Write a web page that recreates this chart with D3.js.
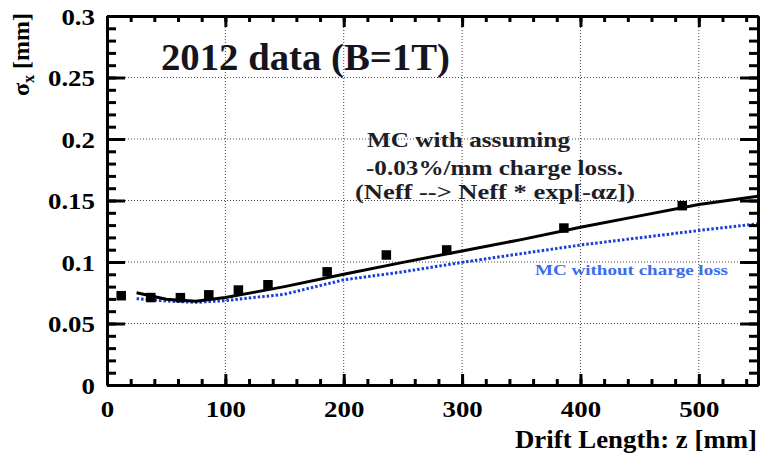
<!DOCTYPE html>
<html>
<head>
<meta charset="utf-8">
<script src="https://cdn.jsdelivr.net/npm/d3@7"></script>
<style>
  html, body { margin: 0; padding: 0; background: #fff; }
  svg { display: block; }
</style>
</head>
<body>
<svg id="chart" width="761" height="457"></svg>
<script>
// ---- data ----
const dataZ      = [12, 37, 62, 86, 111, 136, 186, 236, 287, 386, 486];
const dataSigma  = [0.0726, 0.0711, 0.0710, 0.0733, 0.0772, 0.0815, 0.0920, 0.1057, 0.1098, 0.1276, 0.1458];

const mcLossZ     = [25, 50, 75, 100, 125, 150, 200, 250, 300, 350, 400, 450, 500, 550];
const mcLossSigma = [0.0750, 0.0697, 0.0680, 0.0712, 0.0755, 0.0800, 0.0900, 0.0997, 0.1090, 0.1182, 0.1282, 0.1375, 0.1468, 0.1535];

const mcNoLossZ     = [25, 50, 75, 100, 150, 200, 250, 300, 350, 400, 450, 500, 550];
const mcNoLossSigma = [0.0702, 0.0683, 0.0672, 0.0686, 0.0738, 0.0855, 0.0920, 0.0997, 0.1068, 0.1138, 0.1197, 0.1256, 0.1310];

const xTicks = [0, 100, 200, 300, 400, 500];
const yTicks = [0, 0.05, 0.1, 0.15, 0.2, 0.25, 0.3];
const xDomain = [0, 550];
const yDomain = [0, 0.3];

const titleText = "2012 data (B=1T)";
const noteLines = ["MC with assuming", "-0.03%/mm charge loss.", "(Neff --> Neff * exp[-\u03B1z])"];
const blueLabel = "MC without charge loss";
const xTitle = "Drift Length: z [mm]";

// ---- layout ----
const svg = d3.select("#chart");
const m = { left: 107, top: 16, right: 3, bottom: 72 };
const W = 761, H = 457;
const x = d3.scaleLinear().domain(xDomain).range([m.left, W - m.right]);
const y = d3.scaleLinear().domain(yDomain).range([H - m.bottom, m.top]);
const serif = "'Liberation Serif', 'Times New Roman', serif";

// grid
const grid = svg.append("g").attr("stroke", "#444").attr("stroke-width", 1).attr("stroke-dasharray", "1,2");
xTicks.filter(v => v > 0).forEach(v => {
  grid.append("line").attr("x1", x(v)).attr("x2", x(v)).attr("y1", y(yDomain[0])).attr("y2", y(yDomain[1]));
});
yTicks.filter(v => v > 0 && v < 0.3).forEach(v => {
  grid.append("line").attr("x1", x(xDomain[0])).attr("x2", x(xDomain[1])).attr("y1", y(v)).attr("y2", y(v));
});

// lines
const lineGen = d3.line().x(d => x(d[0])).y(d => y(d[1]));
svg.append("path")
  .datum(mcNoLossZ.map((z, i) => [z, mcNoLossSigma[i]]))
  .attr("d", lineGen).attr("fill", "none")
  .attr("stroke", "#1a3ed8").attr("stroke-width", 3).attr("stroke-dasharray", "2.5,2");
svg.append("path")
  .datum(mcLossZ.map((z, i) => [z, mcLossSigma[i]]))
  .attr("d", lineGen).attr("fill", "none")
  .attr("stroke", "#000").attr("stroke-width", 3);

// markers
const ms = 9.5;
svg.append("g").selectAll("rect").data(dataZ.map((z, i) => [z, dataSigma[i]])).join("rect")
  .attr("x", d => x(d[0]) - ms / 2).attr("y", d => y(d[1]) - ms / 2)
  .attr("width", ms).attr("height", ms).attr("fill", "#000");

// axes
function styleAxis(g) {
  g.select(".domain").attr("stroke", "#000").attr("stroke-width", 3);
  g.selectAll(".tick line").attr("stroke", "#000").attr("stroke-width", 3);
}
const xMinor = d3.range(0, 551, 20);
const yMinor = d3.range(0, 31, 1).map(v => v / 100);

// bottom
svg.append("g").attr("transform", `translate(0,${y(0)})`)
  .call(d3.axisBottom(x).tickValues(xMinor).tickSize(-6).tickSizeOuter(0).tickFormat(""))
  .call(styleAxis);
const bAx = svg.append("g").attr("transform", `translate(0,${y(0)})`)
  .call(d3.axisBottom(x).tickValues(xTicks).tickSize(-11).tickSizeOuter(0).tickFormat(d3.format("d")))
  .call(styleAxis);
bAx.selectAll(".tick text").attr("y", 0).attr("dy", 0)
  .attr("transform", "translate(0,32) scale(1.12,1)")
  .attr("font-family", serif).attr("font-weight", "bold").attr("font-size", 24).attr("fill", "#000");
// top
svg.append("g").attr("transform", `translate(0,${y(0.3)})`)
  .call(d3.axisTop(x).tickValues(xMinor).tickSize(-6).tickSizeOuter(0).tickFormat(""))
  .call(styleAxis);
svg.append("g").attr("transform", `translate(0,${y(0.3)})`)
  .call(d3.axisTop(x).tickValues(xTicks).tickSize(-11).tickSizeOuter(0).tickFormat(""))
  .call(styleAxis);
// left
svg.append("g").attr("transform", `translate(${x(0)},0)`)
  .call(d3.axisLeft(y).tickValues(yMinor).tickSize(-9).tickSizeOuter(0).tickFormat(""))
  .call(styleAxis);
const lAx = svg.append("g").attr("transform", `translate(${x(0)},0)`)
  .call(d3.axisLeft(y).tickValues(yTicks).tickSize(-18).tickSizeOuter(0).tickFormat(d => d3.format("")(+d.toFixed(2))))
  .call(styleAxis);
lAx.selectAll(".tick text").attr("x", 0).attr("dy", 0)
  .attr("text-anchor", "end")
  .attr("transform", "translate(-12,8) scale(1.12,1)")
  .attr("font-family", serif).attr("font-weight", "bold").attr("font-size", 24).attr("fill", "#000");
// right
svg.append("g").attr("transform", `translate(${x(550)},0)`)
  .call(d3.axisRight(y).tickValues(yMinor).tickSize(-9).tickSizeOuter(0).tickFormat(""))
  .call(styleAxis);
svg.append("g").attr("transform", `translate(${x(550)},0)`)
  .call(d3.axisRight(y).tickValues(yTicks).tickSize(-18).tickSizeOuter(0).tickFormat(""))
  .call(styleAxis);

// texts
function txt(str, x0, yb, size, width, opts = {}) {
  return svg.append("text").attr("x", x0).attr("y", yb).text(str)
    .attr("font-family", opts.family || serif)
    .attr("font-weight", opts.weight || "bold")
    .attr("font-size", size)
    .attr("fill", opts.fill || "#000")
    .attr("textLength", width).attr("lengthAdjust", "spacingAndGlyphs");
}
txt(titleText, 161, 70, 37, 289, { fill: "#151520" });
txt(noteLines[0], 367, 147, 21, 203, { fill: "#1e1e28" });
txt(noteLines[1], 366, 175, 21, 257, { fill: "#1e1e28" });
txt(noteLines[2], 355, 199, 21, 280, { fill: "#1e1e28" });
txt(blueLabel, 535, 275, 15, 193, { fill: "#3b6cf0", weight: "bold" });
txt(xTitle, 515, 448, 25, 242);

// y title
const yt = svg.append("text")
  .attr("transform", "translate(29,13) rotate(-90)")
  .attr("text-anchor", "end")
  .attr("font-family", serif).attr("font-weight", "bold").attr("font-size", 24).attr("fill", "#000");
yt.append("tspan").text("\u03C3");
yt.append("tspan").text("x").attr("font-size", 16).attr("dy", 5);
yt.append("tspan").text(" [mm]").attr("dy", -5);
</script>
</body>
</html>
